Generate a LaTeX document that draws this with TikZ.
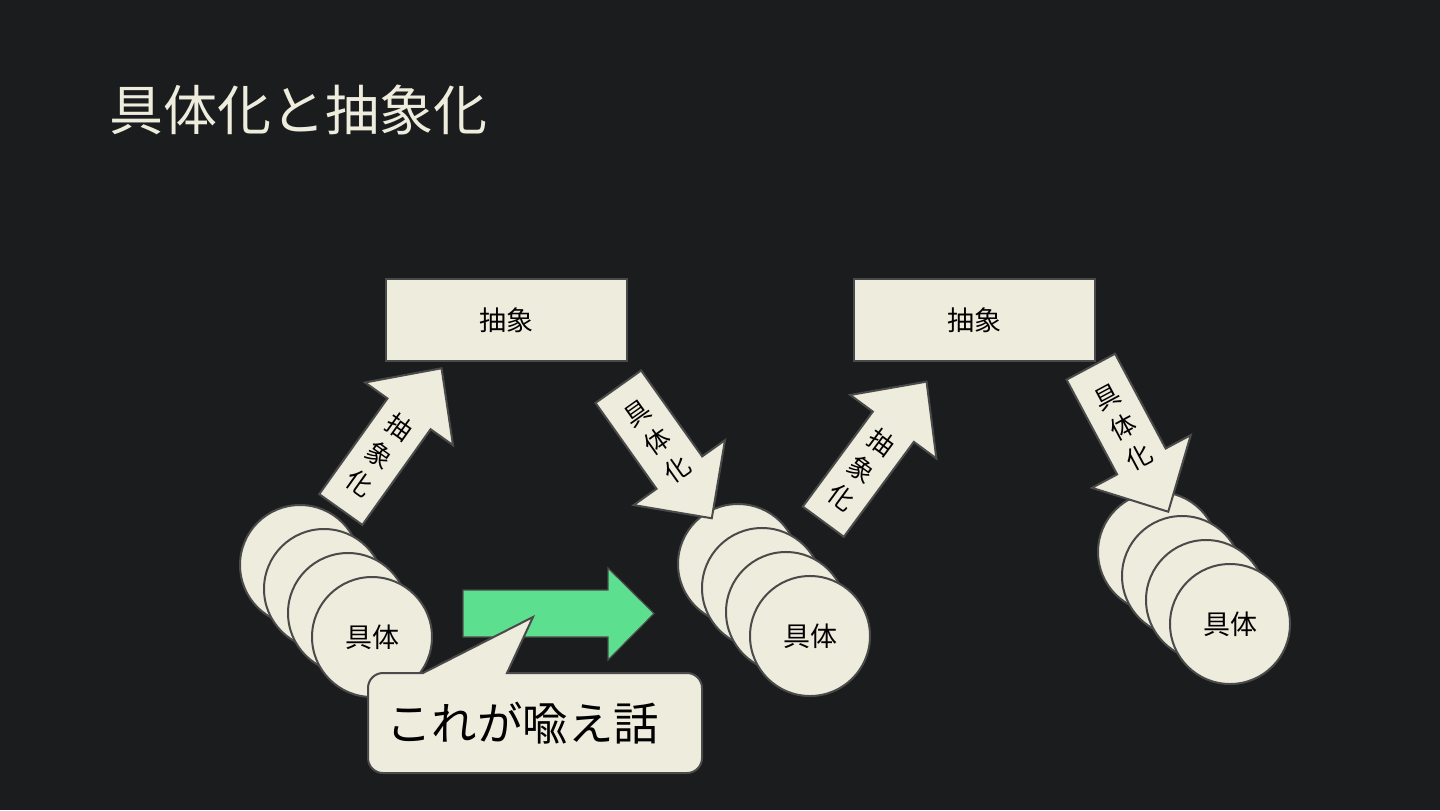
\documentclass[tikz,border=0pt]{standalone}
\usepackage{fontspec}
\setmainfont{Noto Sans CJK JP}
\definecolor{bg}{HTML}{1B1C1E}
\definecolor{cream}{HTML}{EEECDC}
\definecolor{edge}{HTML}{4A4A4A}
\definecolor{mint}{HTML}{5CE08F}
% tail x, tail y, visual angle, length, shaft width, head width, head length
\newcommand\blockarrow[7]{%
  \begin{scope}[shift={(#1,#2)},rotate=#3]
    \draw[shapeline] (0,-#5/2) -- (#4-#7,-#5/2) -- (#4-#7,-#6/2) -- (#4,0)
      -- (#4-#7,#6/2) -- (#4-#7,#5/2) -- (0,#5/2) -- cycle;
  \end{scope}}
\begin{document}
\begin{tikzpicture}[x=0.5pt,y=-0.5pt,
  shapeline/.style={draw=edge,fill=cream,line width=1pt,line join=miter},
  box/.style={shapeline,rectangle,minimum width=120.5pt,minimum height=41pt,inner sep=0pt,
    font=\fontsize{13.5}{16}\selectfont},
  disk/.style={shapeline,circle,minimum size=60pt,inner sep=0pt,
    font=\fontsize{13.5}{16}\selectfont},
  atext/.style={align=center,inner sep=0pt,font=\fontsize{12.8}{17}\selectfont},
]
\fill[bg] (0,0) rectangle (1440,810);
\useasboundingbox (0,0) rectangle (1440,810);

\node[anchor=west,inner sep=0pt,text=cream,font=\fontsize{27}{30}\selectfont] (title) at (109,110) {具体化と抽象化};

% circles group 1
\node[disk] (a1) at (300,565) {};
\node[disk] (a2) at (324,589) {};
\node[disk] (a3) at (348,613) {};
\node[disk] (a4) at (372,637) {具体};
% circles group 2
\node[disk] (b1) at (738,564) {};
\node[disk] (b2) at (762,588) {};
\node[disk] (b3) at (786,612) {};
\node[disk] (b4) at (810,636) {具体};
% circles group 3
\node[disk] (c1) at (1158,552) {};
\node[disk] (c2) at (1182,576) {};
\node[disk] (c3) at (1206,600) {};
\node[disk] (c4) at (1230,624) {具体};

% boxes
\node[box] (abs1) at (506.5,320) {抽象};
\node[box] (abs2) at (974,320) {抽象};

% block arrows
\blockarrow{340.8}{509.5}{54.5}{173.5}{53}{108}{56}
\blockarrow{618.3}{386.7}{-54.6}{161.4}{56}{112}{56}
\blockarrow{823.3}{521.7}{53.6}{174}{51}{107}{56}
\blockarrow{1090.8}{366.7}{-61.9}{164.4}{55}{112}{57}
\node[atext,rotate=-35.5] (up1) at (379.7,455) {抽\\象\\化};
\node[atext,rotate=35.4] (down1) at (657.4,441.7) {具\\体\\化};
\node[atext,rotate=-36.4] (up2) at (861.9,469.4) {抽\\象\\化};
\node[atext,rotate=28.1] (down2) at (1123.3,427.6) {具\\体\\化};

% green arrow
\draw[draw=edge,fill=mint,line width=0.6pt,line join=miter]
  (463,590) -- (608,590) -- (608,568) -- (654,613.5) -- (608,660) -- (608,637) -- (463,637) -- cycle;

% callout
\draw[shapeline]
  (383,673) -- (423,673) -- (533,617) -- (507,673) -- (687,673)
  arc[start angle=90,end angle=0,radius=7.5pt] -- (702,758)
  arc[start angle=0,end angle=-90,radius=7.5pt] -- (383,773)
  arc[start angle=270,end angle=180,radius=7.5pt] -- (368,688)
  arc[start angle=180,end angle=90,radius=7.5pt] -- cycle;
\node[anchor=west,inner sep=0pt,font=\fontsize{22.7}{26}\selectfont] (talk) at (386,723) {これが喩え話};
\end{tikzpicture}
\end{document}
